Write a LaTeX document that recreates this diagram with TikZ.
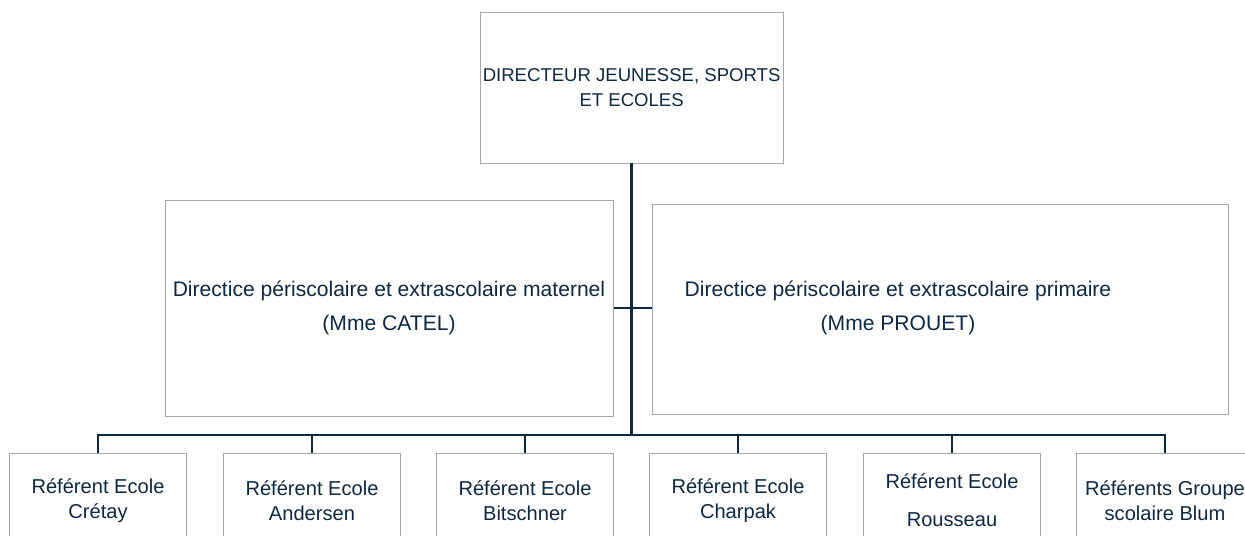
\documentclass[tikz,border=0pt]{standalone}
\usepackage{fontspec}
\setmainfont{Liberation Sans}
\usetikzlibrary{positioning}

\definecolor{navy}{HTML}{0E2841}
\definecolor{boxgray}{HTML}{A6A6A6}

\tikzset{
	box/.style={draw=boxgray, line width=0.7pt, fill=white, inner sep=0pt, align=center, text=navy},
	refbox/.style={box, anchor=north, minimum width=4.425cm, minimum height=2.35cm, font=\fontsize{14.3}{17.7}\selectfont},
	bigbox/.style={box, font=\fontsize{15}{24}\selectfont},
	link/.style={draw=navy, line width=2.1pt}
}

\begin{document}
\begin{tikzpicture}
		\clip (0,0) rectangle (31.125,13.4);
		% direction
		\node[box, minimum width=7.575cm, minimum height=3.75cm, font=\fontsize{13.2}{17.7}\selectfont] (dir) at (15.79,11.2) {DIRECTEUR JEUNESSE, SPORTS\\ET ECOLES};
		\node[bigbox, minimum width=11.2cm, minimum height=5.4cm] (mat) at (9.725,5.7) {Directice périscolaire et extrascolaire maternel\\(Mme CATEL)};
		\node[box, minimum width=14.4cm, minimum height=5.25cm] (pri) at (23.5,5.675) {};
		\node[bigbox, draw=none, fill=none] (priText) at (22.45,5.7) {Directice périscolaire et extrascolaire primaire\\(Mme PROUET)};
		% referents
		\node[refbox] (ref1) at (2.45,2.075) {Référent Ecole\\Crétay};
		\node[refbox] (ref2) at (7.8,2.075) {Référent Ecole\\Andersen};
		\node[refbox] (ref3) at (13.125,2.075) {Référent Ecole\\Bitschner};
		\node[refbox] (ref4) at (18.45,2.075) {Référent Ecole\\Charpak};
		\node[refbox] (ref5) at (23.8,2.075) {Référent Ecole\\[0.33cm]Rousseau};
		\node[refbox] (ref6) at (29.125,2.075) {Référents Groupe\\scolaire Blum};
		% liens
		\coordinate (bus) at (dir.south |- 0,2.525);
		\draw[link] (dir.south) -- (bus);
		\draw[link] (mat.east) -- (mat.east -| pri.west);
		\draw[link] (bus) -| (ref1.north);
		\draw[link] (bus) -| (ref2.north);
		\draw[link] (bus) -| (ref3.north);
		\draw[link] (bus) -| (ref4.north);
		\draw[link] (bus) -| (ref5.north);
		\draw[link] (bus) -| (ref6.north);
	\end{tikzpicture}
\end{document}
